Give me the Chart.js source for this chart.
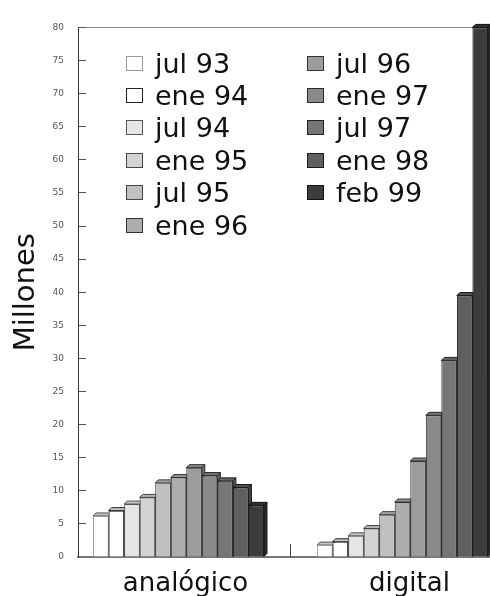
<!DOCTYPE html>
<html>
<head>
<meta charset="utf-8">
<script src="https://cdn.jsdelivr.net/npm/chart.js@4/dist/chart.umd.min.js"></script>
<style>
  html, body { margin: 0; padding: 0; background: #fff; overflow: hidden; }
  #wrap { position: relative; width: 490px; height: 596px; }
  #legend { position: absolute; left: 0; top: 0; width: 490px; height: 596px; pointer-events: none;
            font-family: "DejaVu Sans", Verdana, sans-serif; font-size: 27px; color: #111; }
  .item { position: absolute; display: flex; align-items: center; height: 32px; white-space: nowrap; }
  .sw { width: 17px; height: 15px; box-sizing: border-box; border: 1px solid #333; margin-right: 12px; }
</style>
</head>
<body>
<div id="wrap">
  <canvas id="c" width="490" height="596"></canvas>
  <div id="legend"></div>
</div>
<script>
// Suscriptores (millones) por tipo de red y fecha
const categories = ['analógico', 'digital'];
const periods = ['jul 93', 'ene 94', 'jul 94', 'ene 95', 'jul 95', 'ene 96',
                 'jul 96', 'ene 97', 'jul 97', 'ene 98', 'feb 99'];
const analogico = [6.2, 7.0, 8.0, 9.0, 11.2, 12.0, 13.5, 12.3, 11.5, 10.5, 7.8];
const digital   = [1.8, 2.3, 3.2, 4.3, 6.4, 8.3, 14.5, 21.4, 29.7, 39.5, 80];
const yTickStep = 5;
const yMax = 80;

// grey ramp, one shade per period
const shades = ['#ffffff', '#ffffff', '#e6e6e6', '#d3d3d3', '#c0c0c0', '#adadad',
                '#9c9c9c', '#8a8a8a', '#767676', '#5f5f5f', '#3c3c3c'];
const edges  = ['#9a9a9a', '#222222', '#555555', '#444444', '#444444', '#333333',
                '#333333', '#2a2a2a', '#222222', '#1a1a1a', '#111111'];

const FONT = '"DejaVu Sans", Verdana, sans-serif';
const series = [analogico, digital];

function shade(hex, k) {
  const n = parseInt(hex.slice(1), 16);
  const f = c => Math.max(0, Math.min(255, Math.round(c * k)));
  return `rgb(${f(n >> 16)},${f((n >> 8) & 255)},${f(n & 255)})`;
}

// top cap and right side of every bar, drawn behind the front faces
const depthFaces = {
  id: 'depthFaces',
  beforeDatasetsDraw(chart) {
    const ctx = chart.ctx;
    const d = 3;
    ctx.save();
    ctx.lineWidth = 1;
    chart.data.datasets.forEach((ds, i) => {
      const meta = chart.getDatasetMeta(i);
      const base = ds.backgroundColor === '#ffffff' ? '#e8e8e8' : ds.backgroundColor;
      meta.data.forEach(bar => {
        const { x, y, base: b, width } = bar.getProps(['x', 'y', 'base', 'width'], true);
        const l = x - width / 2, r = x + width / 2;
        ctx.strokeStyle = edges[i] === '#9a9a9a' ? '#555' : edges[i];
        ctx.beginPath();
        ctx.moveTo(r, b); ctx.lineTo(r + d, b - d); ctx.lineTo(r + d, y - d); ctx.lineTo(r, y);
        ctx.closePath();
        ctx.fillStyle = shade(base, 0.7);
        ctx.fill(); ctx.stroke();
        ctx.beginPath();
        ctx.moveTo(l, y); ctx.lineTo(l + d, y - d); ctx.lineTo(r + d, y - d); ctx.lineTo(r, y);
        ctx.closePath();
        ctx.fillStyle = shade(base, 0.85);
        ctx.fill(); ctx.stroke();
      });
    });
    ctx.restore();
  }
};

// short mark on the base line between the two groups
const groupDivider = {
  id: 'groupDivider',
  afterDraw(chart) {
    const xs = chart.scales.x;
    const px = Math.round(xs.getPixelForValue(0.5)) - 0.5;
    const ctx = chart.ctx;
    ctx.save();
    ctx.strokeStyle = '#444';
    ctx.lineWidth = 1;
    ctx.beginPath();
    ctx.moveTo(px, chart.chartArea.bottom - 13);
    ctx.lineTo(px, chart.chartArea.bottom);
    ctx.stroke();
    ctx.restore();
  }
};

const datasets = periods.map((p, i) => ({
  label: p,
  data: categories.map((c, j) => ({ x: j, y: series[j][i] })),
  backgroundColor: shades[i],
  borderColor: edges[i],
  borderWidth: 1,
  categoryPercentage: 0.763,
  barPercentage: 1
}));

const chart = new Chart(document.getElementById('c'), {
  type: 'bar',
  data: { datasets },
  plugins: [depthFaces, groupDivider],
  options: {
    responsive: false,
    animation: false,
    layout: { autoPadding: false, padding: { top: 15, left: 0, right: 0, bottom: 0 } },
    plugins: { legend: { display: false }, tooltip: { enabled: false } },
    scales: {
      x: {
        type: 'linear',
        offset: false,
        min: -0.4487,
        max: 1.3906,
        afterBuildTicks: s => { s.ticks = categories.map((c, i) => ({ value: i })); },
        afterFit: s => { s.height = 39; },
        grid: { display: false },
        border: { display: true, color: '#777', width: 2 },
        ticks: {
          callback: v => categories[v] ?? '',
          font: { family: FONT, size: 26 },
          color: '#111',
          padding: 4,
          labelOffset: 7,
          maxRotation: 0,
          autoSkip: false
        }
      },
      y: {
        min: 0,
        max: yMax,
        afterFit: s => { s.width = 78; },
        border: { display: true, color: '#333', width: 1 },
        grid: {
          drawOnChartArea: true,
          color: c => (c.tick && c.tick.value === yMax) ? '#8a8a8a' : 'rgba(0,0,0,0)',
          tickColor: '#555',
          tickLength: -8,
          lineWidth: 1
        },
        ticks: {
          stepSize: yTickStep,
          font: { family: FONT, size: 9 },
          color: '#555',
          padding: 22
        },
        title: {
          display: true,
          text: 'Millones',
          font: { family: FONT, size: 29 },
          color: '#111',
          padding: { top: 9, bottom: 0 }
        }
      }
    }
  }
});

// two-column legend built from the chart's own legend items
const legendItems = Chart.defaults.plugins.legend.labels.generateLabels(chart);
const legendBox = document.getElementById('legend');
legendItems.forEach((it, i) => {
  const col = i < 6 ? 0 : 1;
  const row = col === 0 ? i : i - 6;
  const el = document.createElement('div');
  el.className = 'item';
  el.style.left = (col === 0 ? 126 : 307) + 'px';
  el.style.top = (47 + row * 32.4) + 'px';
  const sw = document.createElement('span');
  sw.className = 'sw';
  sw.style.background = it.fillStyle;
  sw.style.borderColor = it.strokeStyle;
  const tx = document.createElement('span');
  tx.textContent = it.text;
  el.appendChild(sw);
  el.appendChild(tx);
  legendBox.appendChild(el);
});
</script>
</body>
</html>
